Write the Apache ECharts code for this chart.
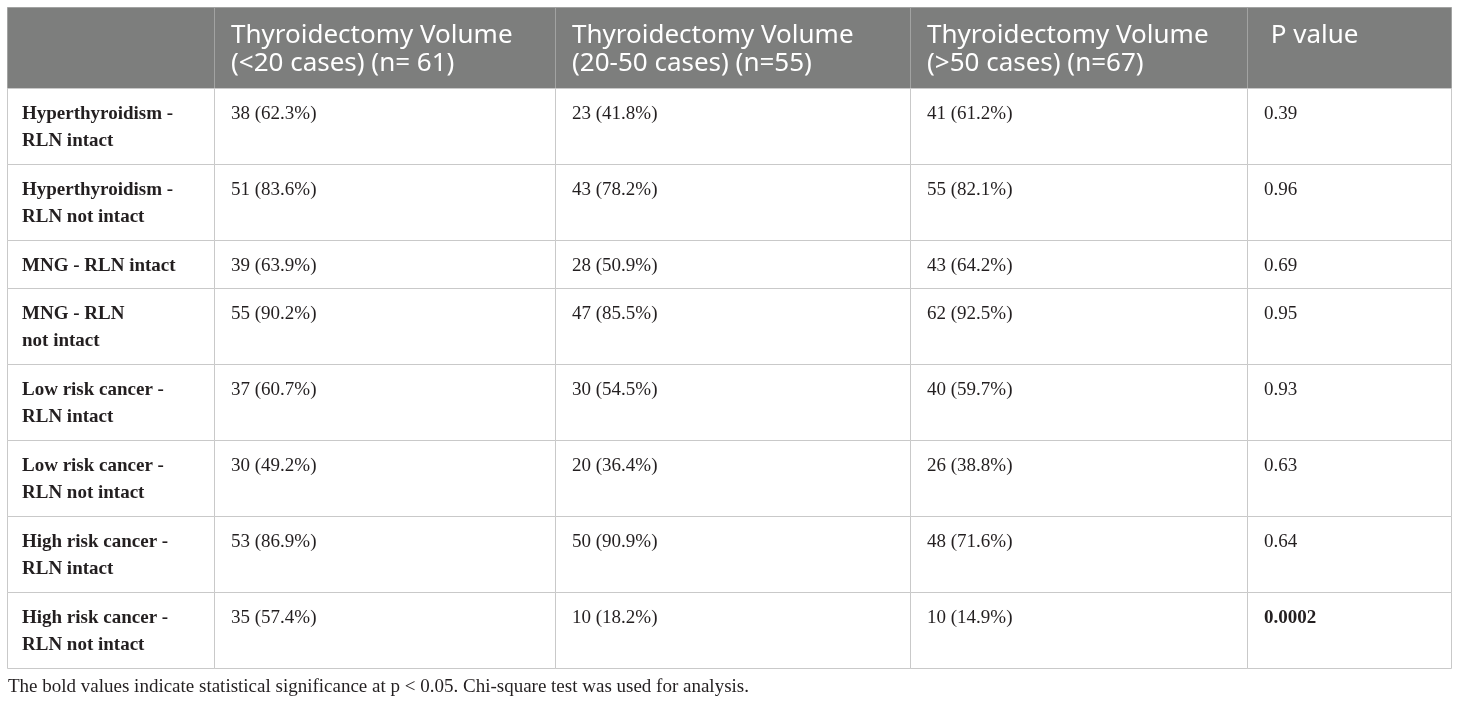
<!DOCTYPE html>
<html>
<head>
<meta charset="utf-8">
<script src="https://cdn.jsdelivr.net/npm/echarts@6/dist/echarts.min.js"></script>
<style>
  html, body { margin: 0; padding: 0; background: #fff; }
  #main { width: 1460px; height: 705px; }
</style>
</head>
<body>
<div id="main"></div>
<script>
// table content
const columnHeaders = [
  '',
  'Thyroidectomy Volume\n(<20 cases) (n= 61)',
  'Thyroidectomy Volume\n(20-50 cases) (n=55)',
  'Thyroidectomy Volume\n(>50 cases) (n=67)',
  ' P value'
];
const rowLabels = [
  'Hyperthyroidism -\nRLN intact',
  'Hyperthyroidism -\nRLN not intact',
  'MNG - RLN intact',
  'MNG - RLN\nnot intact',
  'Low risk cancer -\nRLN intact',
  'Low risk cancer -\nRLN not intact',
  'High risk cancer -\nRLN intact',
  'High risk cancer -\nRLN not intact'
];
const under20Counts = [38, 51, 39, 55, 37, 30, 53, 35];
const under20Pct = [62.3, 83.6, 63.9, 90.2, 60.7, 49.2, 86.9, 57.4];
const mid20to50Counts = [23, 43, 28, 47, 30, 20, 50, 10];
const mid20to50Pct = [41.8, 78.2, 50.9, 85.5, 54.5, 36.4, 90.9, 18.2];
const over50Counts = [41, 55, 43, 62, 40, 26, 48, 10];
const over50Pct = [61.2, 82.1, 64.2, 92.5, 59.7, 38.8, 71.6, 14.9];
const pValues = ['0.39', '0.96', '0.69', '0.95', '0.93', '0.63', '0.64', '0.0002'];
const footnote = 'The bold values indicate statistical significance at p < 0.05. Chi-square test was used for analysis.';

// layout (page pixels, mapped through hidden value axes)
const tableLeft = 7;
const tableTop = 7;
const colWidths = [207, 341, 355, 337, 204];
const headerHeight = 81;
const lineStep = 28;

const fmt = (n, p) => `${n} (${p.toFixed(1)}%)`;

// cell texts per row
const bodyRows = rowLabels.map((label, i) => [
  label,
  fmt(under20Counts[i], under20Pct[i]),
  fmt(mid20to50Counts[i], mid20to50Pct[i]),
  fmt(over50Counts[i], over50Pct[i]),
  pValues[i]
]);

// column edges
const colEdges = [tableLeft];
colWidths.forEach(w => colEdges.push(colEdges[colEdges.length - 1] + w));

// row edges: header then rows sized by number of label lines
const rowEdges = [tableTop, tableTop + headerHeight];
rowLabels.forEach(label => {
  const lines = label.split('\n').length;
  rowEdges.push(rowEdges[rowEdges.length - 1] + 20 + lineStep * lines);
});

// one data item per cell: [col, row]  (row 0 = header)
const cells = [];
for (let r = 0; r <= rowLabels.length; r++) {
  for (let c = 0; c < columnHeaders.length; c++) {
    cells.push([c, r]);
  }
}

const chart = echarts.init(document.getElementById('main'));

const option = {
  animation: false,
  title: {
    text: footnote,
    left: 8,
    top: 678,
    padding: 0,
    textStyle: {
      fontFamily: 'Liberation Serif',
      fontSize: 19,
      fontWeight: 'normal',
      color: '#231f20'
    }
  },
  grid: { left: 0, right: 0, top: 0, bottom: 0 },
  xAxis: { type: 'value', min: 0, max: 1460, show: false },
  yAxis: { type: 'value', min: 0, max: 705, inverse: true, show: false },
  series: [{
    type: 'custom',
    coordinateSystem: 'cartesian2d',
    data: cells,
    renderItem: function (params, api) {
      const c = api.value(0);
      const r = api.value(1);
      const p0 = api.coord([colEdges[c], rowEdges[r]]);
      const p1 = api.coord([colEdges[c + 1], rowEdges[r + 1]]);
      const isHeader = r === 0;
      let textStyle;
      if (isHeader) {
        textStyle = {
          text: columnHeaders[c],
          x: p0[0] + 17,
          y: p0[1] + 15,
          fill: '#ffffff',
          font: '400 26px "Noto Sans"',
          lineHeight: 28,
          verticalAlign: 'top'
        };
      } else {
        const rowIdx = r - 1;
        let bold = c === 0;
        if (c === 4 && parseFloat(pValues[rowIdx]) < 0.05) bold = true;
        textStyle = {
          text: bodyRows[rowIdx][c],
          x: p0[0] + (c === 0 ? 15 : 17),
          y: p0[1] + 13,
          fill: '#231f20',
          font: (bold ? 'bold ' : '') + '19px "Liberation Serif"',
          lineHeight: 27,
          verticalAlign: 'top'
        };
      }
      return {
        type: 'group',
        children: [
          {
            type: 'rect',
            shape: {
              x: Math.round(p0[0]) + 0.5,
              y: Math.round(p0[1]) + 0.5,
              width: Math.round(p1[0] - p0[0]),
              height: Math.round(p1[1] - p0[1])
            },
            style: {
              fill: isHeader ? '#7d7e7d' : '#ffffff',
              stroke: isHeader ? '#a2a3a2' : '#c9c9c9',
              lineWidth: 1
            }
          },
          { type: 'text', style: textStyle }
        ]
      };
    }
  }]
};

chart.setOption(option);
</script>
</body>
</html>
